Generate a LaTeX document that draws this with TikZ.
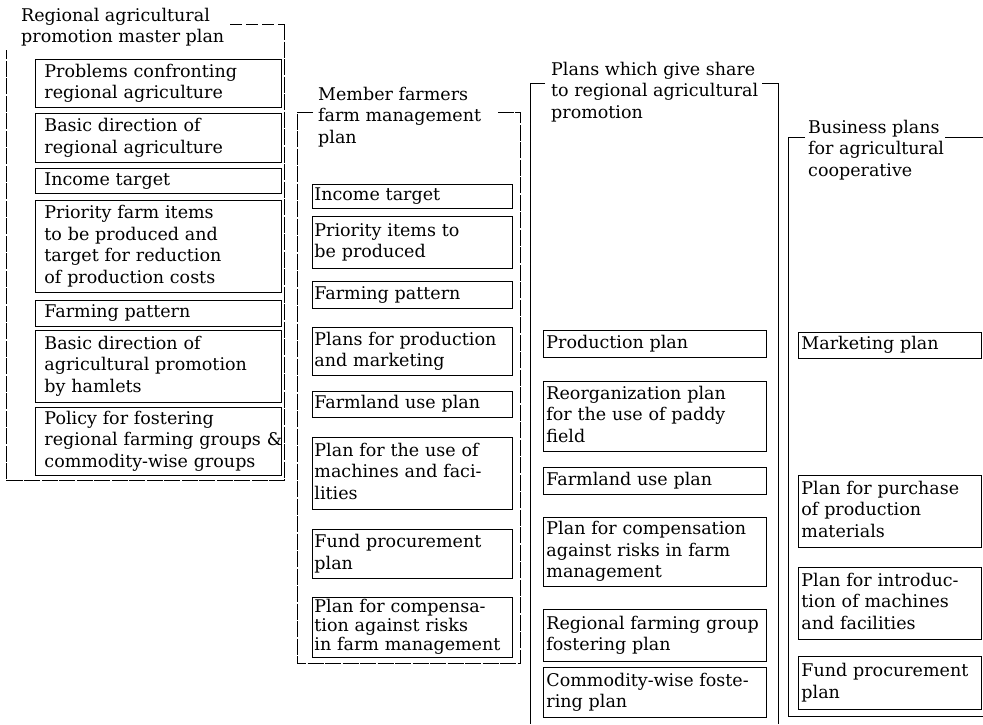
\documentclass[tikz,border=0pt]{standalone}
\usepackage{fontspec}
\setmainfont{DejaVu Serif}

% lines of a plan box, stacked and left aligned
\newcommand{\planlines}[1]{\begin{tabular}{@{}l@{}}#1\end{tabular}}
% lines of a column heading, baseline on the first line
\newcommand{\titlelines}[1]{\begin{tabular}[t]{@{}l@{}}#1\end{tabular}}
% \planbox[extra options]{name}{left}{top}{right}{bottom}{inset}{text}
\newcommand{\planbox}[8][]{%
  \pgfmathsetmacro{\pbw}{#5-#3-2*#7}%
  \pgfmathsetmacro{\pbh}{#6-#4}%
  \node[plan, #1, text width=\pbw pt, inner xsep=#7pt, minimum height=\pbh pt,
        anchor=north west] (#2) at (#3,#4) {\planlines{#8}};}

\begin{document}
\begin{tikzpicture}[
    x=1pt, y=-1pt,
    font=\fontsize{17.5}{21.5}\selectfont,
    plan/.style={draw, line width=0.9pt, inner ysep=0pt, align=left},
    frame/.style={line width=0.8pt},
    brokenframe/.style={frame, dash pattern=on 16pt off 1.5pt},
    title/.style={inner sep=0pt, anchor=base west}]

\fill[white] (0,0) rectangle (983,724);
\useasboundingbox (0,0) rectangle (983,724);

% column headings
\node[title] (t1) at (21,21)   {\titlelines{Regional agricultural\\promotion master plan}};
\node[title] (t2) at (318,100) {\titlelines{Member farmers\\farm management\\plan}};
\node[title] (t3) at (551,75)  {\titlelines{Plans which give share\\to regional agricultural\\promotion}};
\node[title] (t4) at (808,133) {\titlelines{Business plans\\for agricultural\\cooperative}};

% column frames
\draw[frame, dash pattern=on 12pt off 4pt] (230,24) -- (284,24);
\draw[brokenframe] (284,24) -- (284,480) -- (6,480) -- (6,50);
\draw[brokenframe] (313,112) -- (297,112) -- (297,663) -- (520,663) -- (520,112) -- (497,112);
\draw[frame] (545,83) -- (530,83) -- (530,724);
\draw[frame] (762,83) -- (778,83) -- (778,724);
\draw[frame] (805,137) -- (788,137) -- (788,716) -- (983,716);
\draw[frame] (945,137) -- (983,137);

% regional agricultural promotion master plan
\planbox{p1}{35}{59}{281}{107}{9}{Problems confronting\\regional agriculture}
\planbox{p2}{35}{113}{281}{162}{9}{Basic direction of\\regional agriculture}
\planbox{p3}{35}{168}{281}{193}{9}{Income target}
\planbox{p4}{35}{200}{281}{292}{9}{Priority farm items\\to be produced and\\target for reduction\\of production costs}
\planbox{p5}{35}{300}{281}{326}{9}{Farming pattern}
\planbox{p6}{35}{330}{281}{402}{9}{Basic direction of\\agricultural promotion\\by hamlets}
\planbox{p7}{35}{407}{281}{475}{9}{Policy for fostering\\regional farming groups \&\\commodity-wise groups}

% member farmers farm management plan
\planbox{m1}{312}{184}{512}{208}{2}{Income target}
\planbox{m2}{312}{216}{512}{268}{2}{Priority items to\\be produced}
\planbox{m3}{312}{281}{512}{308}{2}{Farming pattern}
\planbox{m4}{312}{327}{512}{375}{2}{Plans for production\\and marketing}
\planbox{m5}{312}{391}{512}{417}{2}{Farmland use plan}
\planbox{m6}{312}{437}{512}{509}{2}{Plan for the use of\\machines and faci-\\lities}
\planbox{m7}{312}{529}{512}{578}{2}{Fund procurement\\plan}
\planbox[execute at begin node={\renewcommand\arraystretch{0.87}}]{m8}{312}{597}{512}{657}{2}{Plan for compensa-\\tion against risks\\in farm management}

% plans which give share to regional agricultural promotion
\planbox{s1}{543}{330}{766}{357}{3}{Production plan}
\planbox{s2}{543}{381}{766}{451}{3}{Reorganization plan\\for the use of paddy\\field}
\planbox{s3}{543}{467}{766}{494}{3}{Farmland use plan}
\planbox{s4}{543}{517}{766}{586}{3}{Plan for compensation\\against risks in farm\\management}
\planbox{s5}{543}{609}{766}{661}{3}{Regional farming group\\fostering plan}
\planbox{s6}{543}{667}{766}{717}{3}{Commodity-wise foste-\\ring plan}

% business plans for agricultural cooperative
\planbox{b1}{798}{332}{981}{358}{3}{Marketing plan}
\planbox{b2}{798}{475}{981}{547}{3}{Plan for purchase\\of production\\materials}
\planbox{b3}{798}{567}{981}{639}{3}{Plan for introduc-\\tion of machines\\and facilities}
\planbox{b4}{798}{656}{981}{709}{3}{Fund procurement\\plan}

\end{tikzpicture}
\end{document}
